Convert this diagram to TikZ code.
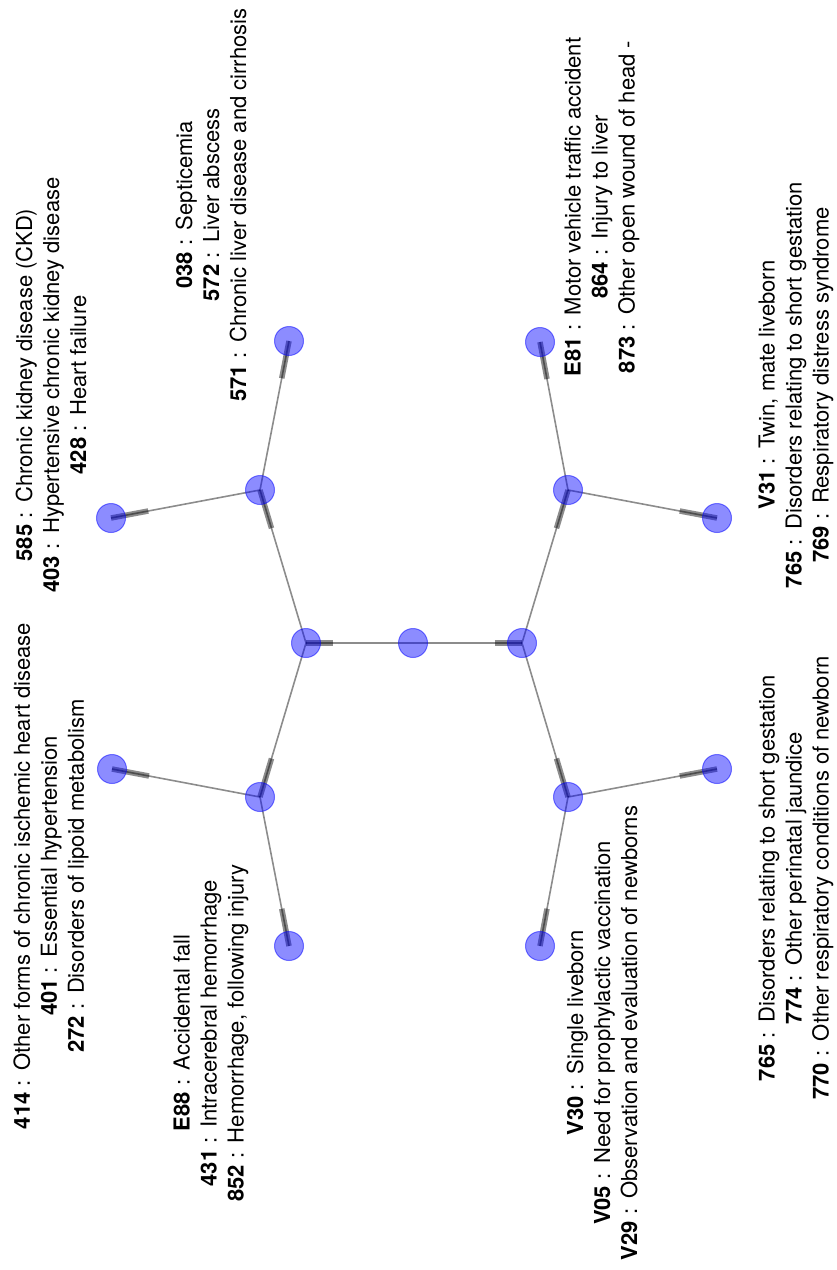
\documentclass[tikz,border=0pt]{standalone}
\usepackage{fontspec}
\setmainfont{TeX Gyre Heros}
\usetikzlibrary{calc}
\pgfdeclarelayer{bg}
\pgfsetlayers{bg,main}
\newcommand\myedge[2]{%
  \draw[thinedge] (#1.center) -- (#2.center);
  \draw[tipbar] ($(#1.center)!0.75!(#2.center)$) -- (#2.center);}
\newcommand\cd[1]{\textbf{#1}\ :\ \,}
\begin{document}
\begin{tikzpicture}[x=1pt,y=-1pt,
  vtx/.style={circle,minimum size=29pt,inner sep=0pt,fill=blue,fill opacity=0.45,draw=blue,draw opacity=0.5,line width=1pt},
  thinedge/.style={draw=black,draw opacity=0.45,line width=1.6pt},
  tipbar/.style={draw=black,draw opacity=0.45,line width=5.5pt},
  lbl/.style={rotate=90,align=center,font=\fontsize{22}{27}\selectfont,inner sep=0pt}]
\useasboundingbox (0,0) rectangle (836,1270);
% vertices
\node[vtx] (c) at (413,643) {};
\node[vtx] (L) at (306,643) {};
\node[vtx] (R) at (522,643) {};
\node[vtx] (UL) at (260,490) {};
\node[vtx] (LL) at (260,797) {};
\node[vtx] (UR) at (568,490) {};
\node[vtx] (LR) at (568,797) {};
\node[vtx] (ULa) at (111,518) {};
\node[vtx] (ULb) at (289,341) {};
\node[vtx] (LLa) at (112,769) {};
\node[vtx] (LLb) at (289,946) {};
\node[vtx] (URa) at (540,342) {};
\node[vtx] (URb) at (717,518) {};
\node[vtx] (LRa) at (717,769) {};
\node[vtx] (LRb) at (540,946) {};
% edges
\begin{pgfonlayer}{bg}
\myedge{c}{L}
\myedge{c}{R}
\myedge{L}{UL}
\myedge{L}{LL}
\myedge{R}{UR}
\myedge{R}{LR}
\myedge{UL}{ULa}
\myedge{UL}{ULb}
\myedge{LL}{LLa}
\myedge{LL}{LLb}
\myedge{UR}{URa}
\myedge{UR}{URb}
\myedge{LR}{LRa}
\myedge{LR}{LRb}
\end{pgfonlayer}
% labels
\node[lbl] (tA) at (51,876) {\cd{414}Other forms of chronic ischemic heart disease\\\cd{401}Essential hypertension\\\cd{272}Disorders of lipoid metabolism};
\node[lbl] (tB) at (211,1033) {\cd{E88}Accidental fall\\\cd{431}Intracerebral hemorrhage\\\cd{852}Hemorrhage, following injury};
\node[lbl] (tC) at (51,385) {\cd{585}Chronic kidney disease (CKD)\\\cd{403}Hypertensive chronic kidney disease\\\cd{428}Heart failure};
\node[lbl] (tD) at (211,205) {\cd{038}Septicemia\\\cd{572}Liver abscess\\\cd{571}Chronic liver disease and cirrhosis};
\node[lbl] (tE) at (602,207) {\cd{E81}Motor vehicle traffic accident\\\cd{864}Injury to liver\\\cd{873}Other open wound of head -};
\node[lbl] (tF) at (796,385) {\cd{V31}Twin, mate liveborn\\\cd{765}Disorders relating to short gestation\\\cd{769}Respiratory distress syndrome};
\node[lbl] (tG) at (602,1033) {\cd{V30}Single liveborn\\\cd{V05}Need for prophylactic vaccination\\\cd{V29}Observation and evaluation of newborns};
\node[lbl] (tH) at (796,878) {\cd{765}Disorders relating to short gestation\\\cd{774}Other perinatal jaundice\\\cd{770}Other respiratory conditions of newborn};
\end{tikzpicture}
\end{document}
